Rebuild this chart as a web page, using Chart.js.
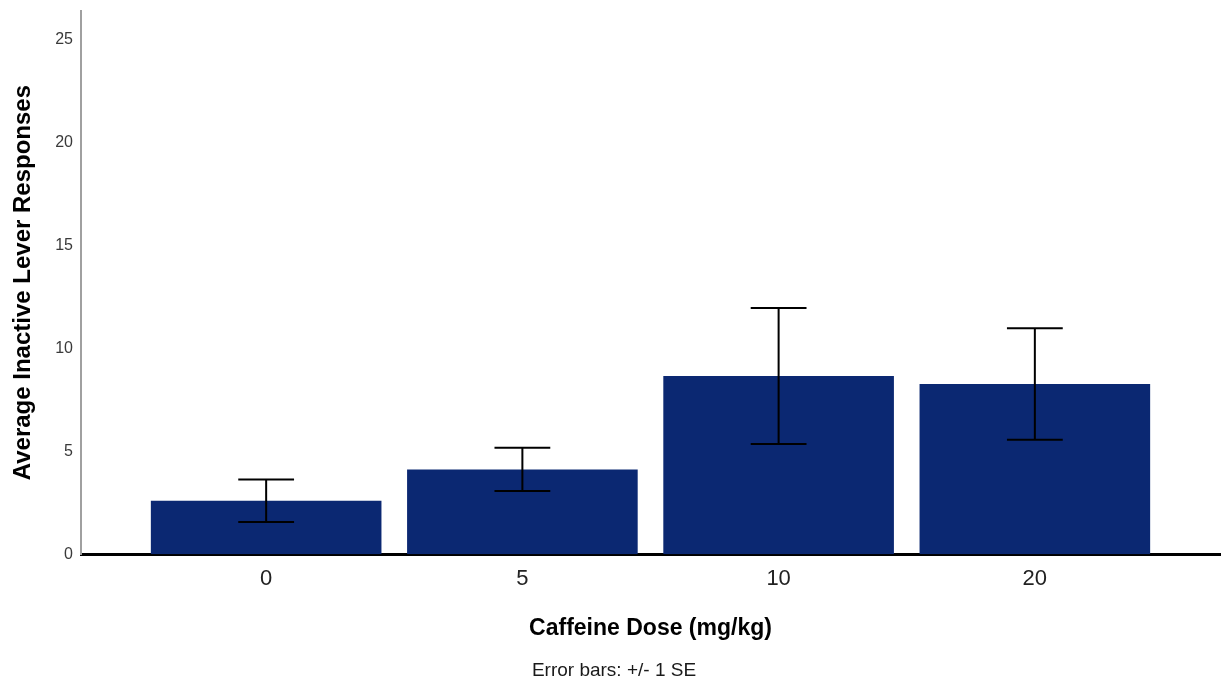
<!DOCTYPE html>
<html>
<head>
<meta charset="utf-8">
<script src="https://cdn.jsdelivr.net/npm/chart.js@4.4.1/dist/chart.umd.min.js"></script>
<style>
  html, body { margin: 0; padding: 0; background: #ffffff; }
  #wrap { width: 1224px; height: 686px; position: relative; }
</style>
</head>
<body>
<div id="wrap"><canvas id="c" width="1224" height="686"></canvas></div>
<script>
// ---- data ----
const doses = ['0', '5', '10', '20'];
const means = [2.60, 4.12, 8.66, 8.27];
const seValues = [1.03, 1.05, 3.30, 2.71];
const yTicks = [0, 5, 10, 15, 20, 25];
const yTitle = 'Average Inactive Lever Responses';
const xTitle = 'Caffeine Dose (mg/kg)';
const footnote = 'Error bars: +/- 1 SE';

const FONT = "'Liberation Sans', Arial, sans-serif";

const errorBarPlugin = {
  id: 'errorBars',
  afterDatasetsDraw(chart) {
    const ctx = chart.ctx;
    const yScale = chart.scales.y;
    const meta = chart.getDatasetMeta(0);
    ctx.save();
    ctx.strokeStyle = '#000000';
    ctx.lineWidth = 2;
    meta.data.forEach((bar, i) => {
      const x = bar.x;
      const yTop = yScale.getPixelForValue(means[i] + seValues[i]);
      const yBot = yScale.getPixelForValue(means[i] - seValues[i]);
      const half = bar.width * 0.121;
      ctx.beginPath();
      ctx.moveTo(x, yTop); ctx.lineTo(x, yBot);
      ctx.moveTo(x - half, yTop); ctx.lineTo(x + half, yTop);
      ctx.moveTo(x - half, yBot); ctx.lineTo(x + half, yBot);
      ctx.stroke();
    });
    ctx.restore();
  }
};

new Chart(document.getElementById('c'), {
  type: 'bar',
  data: {
    datasets: [{
      data: means.map((v, i) => ({ x: i, y: v })),
      backgroundColor: '#0b2872',
      borderWidth: 0,
      categoryPercentage: 1.0,
      barPercentage: 0.9
    }]
  },
  plugins: [errorBarPlugin],
  options: {
    responsive: false,
    animation: false,
    devicePixelRatio: 1,
    layout: { padding: { left: 8, right: 4, top: 11, bottom: 4 } },
    plugins: {
      legend: { display: false },
      tooltip: { enabled: false },
      title: {
        display: true,
        position: 'bottom',
        text: footnote,
        color: '#1a1a1a',
        font: { family: FONT, size: 19, weight: 'normal', lineHeight: 1.2 },
        padding: { top: 0, bottom: 0 }
      }
    },
    scales: {
      x: {
        type: 'linear',
        offset: false,
        min: -0.7226,
        max: 3.7226,
        grid: { display: false, drawTicks: false, offset: false },
        border: { display: true, color: '#000000', width: 3 },
        afterBuildTicks(axis) { axis.ticks = doses.map((_, i) => ({ value: i })); },
        afterFit(axis) { axis.height = 105; axis.paddingLeft = 0; axis.paddingRight = 0; },
        ticks: {
          autoSkip: false,
          maxRotation: 0,
          padding: 12,
          color: '#222222',
          font: { family: FONT, size: 22 },
          callback: (v) => doses[v] !== undefined ? doses[v] : ''
        },
        title: {
          display: true,
          text: xTitle,
          color: '#000000',
          font: { family: FONT, size: 23, weight: 'bold', lineHeight: 1.2 },
          padding: { top: 0, bottom: 17 }
        }
      },
      y: {
        min: 0,
        max: 26.4,
        grid: { display: false, drawTicks: false },
        border: { display: true, color: '#a0a0a0', width: 2 },
        afterBuildTicks(axis) { axis.ticks = yTicks.map(v => ({ value: v })); },
        afterFit(axis) { axis.width = 73; axis.paddingTop = 0; axis.paddingBottom = 0; },
        ticks: {
          padding: 8,
          color: '#3a3a3a',
          font: { family: FONT, size: 16 }
        },
        title: {
          display: true,
          text: yTitle,
          color: '#000000',
          font: { family: FONT, size: 24, weight: 'bold', lineHeight: 1.2 },
          padding: { top: 1, bottom: 0 }
        }
      }
    }
  }
});
</script>
</body>
</html>
